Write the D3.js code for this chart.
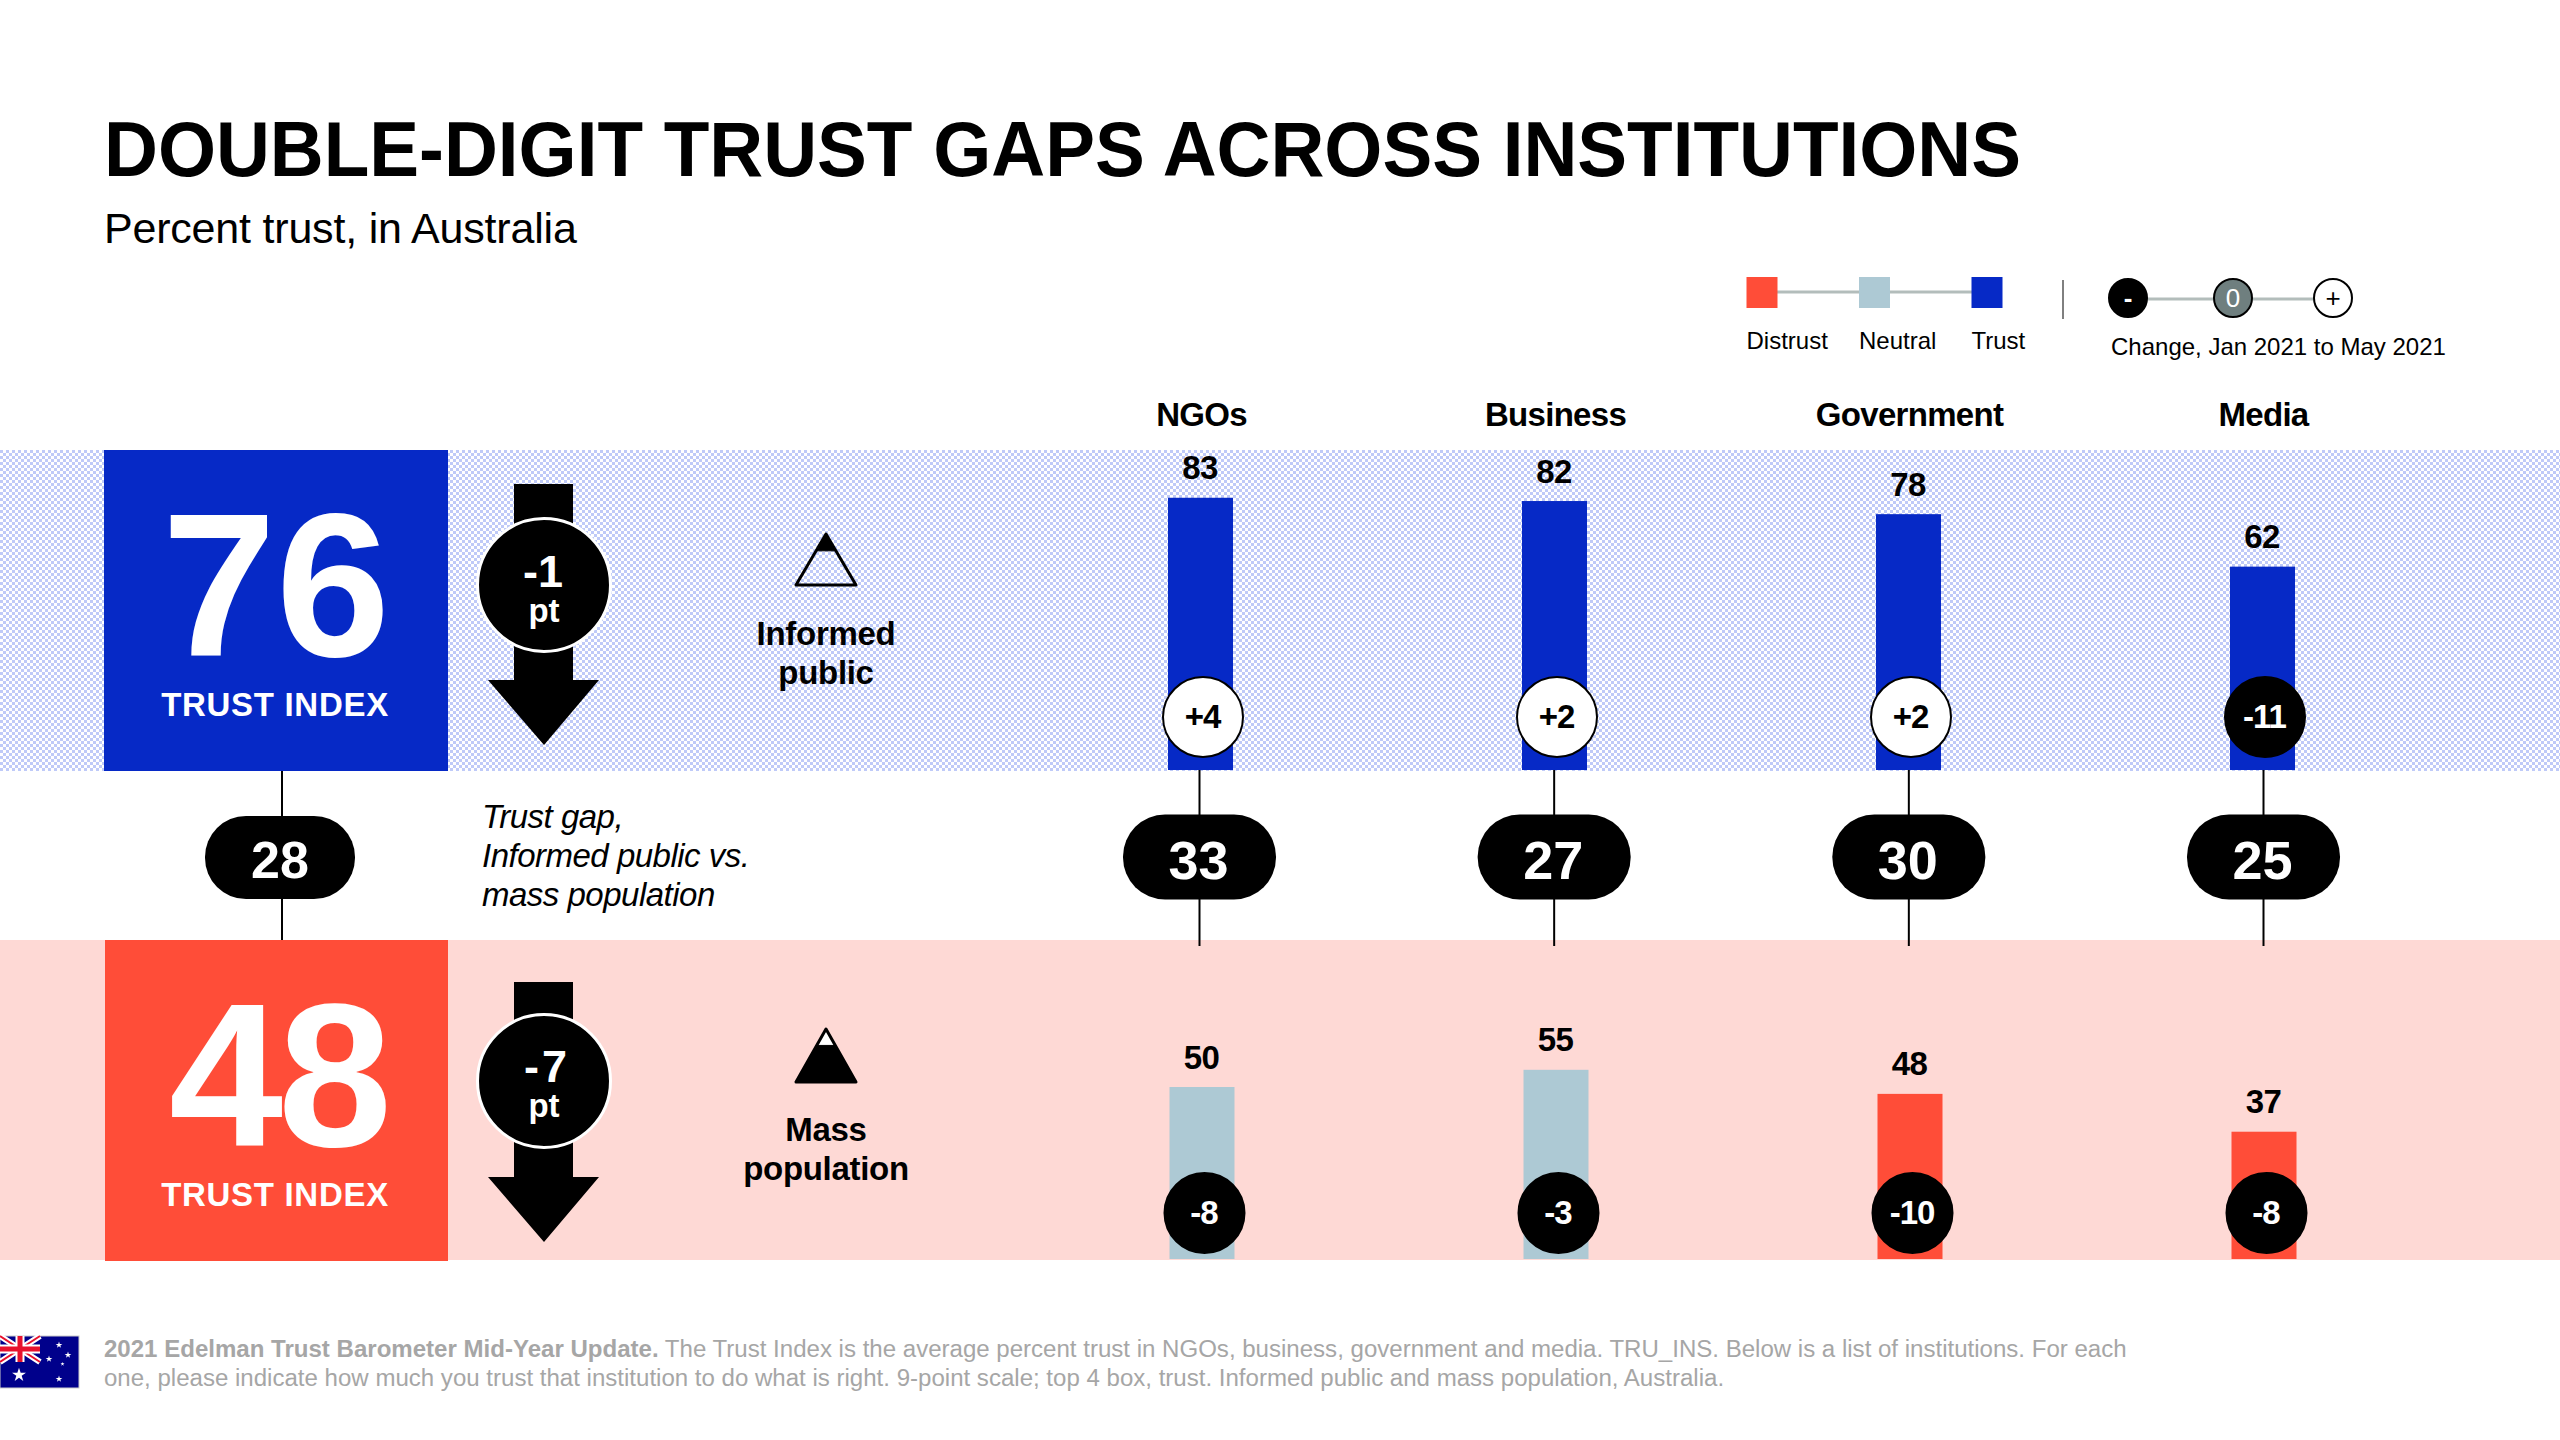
<!DOCTYPE html>
<html>
<head>
<meta charset="utf-8">
<style>
	body { margin: 0; background: #fff; }
	svg { display: block; }
	text { font-family: "Liberation Sans", Arial, sans-serif; }
</style>
<script src="https://d3js.org/d3.v7.min.js"></script>
</head>
<body>
<div id="chart"></div>
<script>
const categories = ['NGOs', 'Business', 'Government', 'Media'];
const informedValues = [83, 82, 78, 62];
const massValues = [50, 55, 48, 37];
const informedChange = ['+4', '+2', '+2', '-11'];
const massChange = ['-8', '-3', '-10', '-8'];
const gapValues = [33, 27, 30, 25];

const indexValues = [76, 48];
const indexChange = ['-1', '-7'];
const indexGap = 28;
const groupLabels = [['Informed', 'public'], ['Mass', 'population']];
const gapLabels = ['Trust gap,', 'Informed public vs.', 'mass population'];

const legendLabels = ['Distrust', 'Neutral', 'Trust'];
const changeLegend = ['-', '0', '+'];

const footBold = '2021 Edelman Trust Barometer Mid-Year Update.';
const footRest = ' The Trust Index is the average percent trust in NGOs, business, government and media. TRU_INS. Below is a list of institutions. For each';
const footLine2 = 'one, please indicate how much you trust that institution to do what is right. 9-point scale; top 4 box, trust. Informed public and mass population, Australia.';

const BLUE = '#0629c6', RED = '#ff4d38', PINK = '#fed9d5', NEUTRAL = '#adc9d4';

const svg = d3.select('#chart').append('svg').attr('width', 2560).attr('height', 1440);

// checker fill of the blue band
const pat = svg.append('defs').append('pattern').attr('id', 'checker')
	.attr('width', 6).attr('height', 6).attr('patternUnits', 'userSpaceOnUse');
pat.append('rect').attr('width', 6).attr('height', 6).attr('fill', '#fff');
pat.append('rect').attr('width', 3).attr('height', 3).attr('fill', '#bfcaf8');
pat.append('rect').attr('x', 3).attr('y', 3).attr('width', 3).attr('height', 3).attr('fill', '#bfcaf8');

const x = d3.scalePoint().domain(categories).range([1200.5, 2262.5]);
const gapX = d3.scalePoint().domain(categories).range([1199.5, 2263.5]);
const yInformed = d3.scaleLinear().domain([0, 100]).range([770, 442]);
const yMass = d3.scaleLinear().domain([0, 100]).range([1259, 915]);
const trustColor = d3.scaleThreshold().domain([50, 60]).range([RED, NEUTRAL, BLUE]);

function label(g, str, px, py, size, opts) {
	opts = opts || {};
	return g.append('text').attr('x', px).attr('y', py).text(str)
		.attr('font-size', size)
		.attr('font-weight', opts.weight || 'normal')
		.attr('font-style', opts.style || 'normal')
		.attr('text-anchor', opts.anchor || 'middle')
		.attr('letter-spacing', opts.spacing || 0)
		.attr('fill', opts.fill || '#000');
}

// title
label(svg, 'DOUBLE-DIGIT TRUST GAPS ACROSS INSTITUTIONS', 104, 176, 78, { weight: 'bold', anchor: 'start' })
	.attr('textLength', 1917).attr('lengthAdjust', 'spacingAndGlyphs');
label(svg, 'Percent trust, in Australia', 104, 243, 43, { anchor: 'start', spacing: -0.2 });

// legend
const legendX = d3.scalePoint().domain(legendLabels).range([1762, 1987]);
svg.append('line').attr('x1', legendX('Distrust')).attr('x2', legendX('Trust'))
	.attr('y1', 292).attr('y2', 292).attr('stroke', '#b3bdbb').attr('stroke-width', 3);
svg.selectAll('rect.legend').data(legendLabels).enter().append('rect')
	.attr('class', 'legend')
	.attr('x', (d) => legendX(d) - 15.5)
	.attr('y', 277).attr('width', 31).attr('height', 31)
	.attr('fill', (d, i) => [RED, NEUTRAL, BLUE][i]);
legendLabels.forEach((d) => {
	label(svg, d, legendX(d) - 15.5, 349, 24, { anchor: 'start' });
});
svg.append('line').attr('x1', 2063).attr('x2', 2063).attr('y1', 280).attr('y2', 319)
	.attr('stroke', '#000').attr('stroke-width', 1);

const changeX = d3.scaleOrdinal().domain(changeLegend).range([2128, 2233, 2333]);
svg.append('line').attr('x1', changeX('-')).attr('x2', changeX('+'))
	.attr('y1', 299).attr('y2', 299).attr('stroke', '#b3bdbb').attr('stroke-width', 3);
svg.selectAll('circle.change').data(changeLegend).enter().append('circle')
	.attr('class', 'change')
	.attr('cx', (d) => changeX(d)).attr('cy', 298).attr('r', 19)
	.attr('fill', (d, i) => ['#000', '#6f7f7f', '#fff'][i])
	.attr('stroke', '#000').attr('stroke-width', 2);
changeLegend.forEach((d, i) => {
	label(svg, d, changeX(d), 307, 26, { weight: i === 0 ? 'bold' : 'normal', fill: i === 2 ? '#000' : '#fff' });
});
label(svg, 'Change, Jan 2021 to May 2021', 2111, 355, 24, { anchor: 'start' });

// bands
svg.append('rect').attr('x', 0).attr('y', 450).attr('width', 2560).attr('height', 321).attr('fill', 'url(#checker)');
svg.append('rect').attr('x', 0).attr('y', 940).attr('width', 2560).attr('height', 320).attr('fill', PINK);

// connectors run under the pills
svg.append('line').attr('x1', 282).attr('x2', 282).attr('y1', 771).attr('y2', 940).attr('stroke', '#000').attr('stroke-width', 2);
svg.selectAll('line.gap').data(categories).enter().append('line')
	.attr('class', 'gap')
	.attr('x1', (d) => gapX(d)).attr('x2', (d) => gapX(d))
	.attr('y1', 770).attr('y2', 946)
	.attr('stroke', '#000').attr('stroke-width', 2);

// index boxes with arrows
const rows = [
	{ top: 450, left: 104, fill: BLUE, arrowTop: 484, head: 680, tip: 745, cy: 585, triTop: 534, triBase: 585, numX: 276, numSpacing: 0, chgX: 543, chgSpacing: 0, chgDy: 2 },
	{ top: 940, left: 105, fill: RED, arrowTop: 982, head: 1177, tip: 1242, cy: 1081, triTop: 1029, triBase: 1082, numX: 278, numSpacing: -5, chgX: 547, chgSpacing: 3, chgDy: 1 }
];
rows.forEach((r, i) => {
	const g = svg.append('g');
	g.append('rect').attr('x', r.left).attr('y', r.top).attr('width', 448 - r.left).attr('height', 321).attr('fill', r.fill);
	label(g, indexValues[i], r.numX, r.top + 206, 205, { weight: 'bold', fill: '#fff', spacing: r.numSpacing });
	label(g, 'TRUST INDEX', 275, r.top + 266, 33, { weight: 'bold', fill: '#fff', spacing: 0.7 });

	g.append('path').attr('fill', '#000').attr('d', d3.line()([
		[514, r.arrowTop], [573, r.arrowTop], [573, r.head], [599, r.head],
		[544, r.tip], [488, r.head], [514, r.head]
	]) + 'Z');
	g.append('circle').attr('cx', 544).attr('cy', r.cy).attr('r', 66.5)
		.attr('fill', '#000').attr('stroke', '#fff').attr('stroke-width', 3);
	label(g, indexChange[i], r.chgX, r.cy + r.chgDy, 45, { weight: 'bold', fill: '#fff', spacing: r.chgSpacing });
	label(g, 'pt', 544, r.cy + r.chgDy + 35, 33, { weight: 'bold', fill: '#fff' });

	// triangle, the filled part is the share of the population
	const tx = 826, half = 30, split = i === 0 ? 0.33 : 0.31;
	const sy = r.triTop + (r.triBase - r.triTop) * split;
	const sh = half * split;
	g.append('path').attr('d', d3.line()([[tx, r.triTop], [tx + half, r.triBase], [tx - half, r.triBase]]) + 'Z')
		.attr('fill', '#fff').attr('fill-opacity', i === 0 ? 0 : 1).attr('stroke', '#000').attr('stroke-width', 3).attr('stroke-linejoin', 'round');
	const filled = i === 0
		? [[tx, r.triTop], [tx + sh, sy], [tx - sh, sy]]
		: [[tx - sh, sy], [tx + sh, sy], [tx + half, r.triBase], [tx - half, r.triBase]];
	g.append('path').attr('d', d3.line()(filled) + 'Z').attr('fill', '#000').attr('stroke', '#000');

	const base = i === 0 ? 645 : 1141;
	groupLabels[i].forEach((t, k) => {
		label(g, t, 826, base + k * 39, 33, { weight: 'bold', spacing: -0.3 });
	});
});

// gap row
svg.append('rect').attr('x', 205).attr('y', 816).attr('width', 150).attr('height', 83).attr('rx', 41).attr('fill', '#000');
label(svg, indexGap, 280, 878, 52, { weight: 'bold', fill: '#fff' });
gapLabels.forEach((t, k) => {
	label(svg, t, 482, 828 + k * 39, 33, { style: 'italic', anchor: 'start', spacing: -0.5 });
});
svg.selectAll('rect.pill').data(gapValues).enter().append('rect')
	.attr('class', 'pill')
	.attr('x', (d, i) => gapX(categories[i]) - 76.5)
	.attr('y', 814.5).attr('width', 153).attr('height', 85).attr('rx', 42).attr('fill', '#000');
gapValues.forEach((d, i) => {
	label(svg, d, gapX(categories[i]) - 1, 879, 54, { weight: 'bold', fill: '#fff' });
});

// column heads
categories.forEach((d) => {
	label(svg, d, x(d) + 1, 426, 33, { weight: 'bold', spacing: -0.7 });
});

// bars, informed public then mass population
function drawBars(name, values, changes, y, dx, cy) {
	const g = svg.append('g').attr('class', name);
	g.selectAll('rect').data(values).enter().append('rect')
		.attr('x', (d, i) => x(categories[i]) + dx - 32.5)
		.attr('y', (d) => y(d))
		.attr('width', 65)
		.attr('height', (d) => y(0) - y(d))
		.attr('fill', (d) => trustColor(d));
	g.selectAll('text.value').data(values).enter().append('text')
		.attr('class', 'value')
		.attr('x', (d, i) => x(categories[i]) + dx - 0.5)
		.attr('y', (d) => y(d) - 18.5)
		.attr('text-anchor', 'middle').attr('font-size', 33).attr('font-weight', 'bold').attr('letter-spacing', -0.5)
		.text((d) => d);
	g.selectAll('circle').data(changes).enter().append('circle')
		.attr('cx', (d, i) => x(categories[i]) + dx + 2.5)
		.attr('cy', cy).attr('r', 40)
		.attr('fill', (d) => d[0] === '+' ? '#fff' : '#000')
		.attr('stroke', '#000').attr('stroke-width', 2);
	g.selectAll('text.delta').data(changes).enter().append('text')
		.attr('class', 'delta')
		.attr('x', (d, i) => x(categories[i]) + dx + 2)
		.attr('y', cy + 11)
		.attr('text-anchor', 'middle').attr('font-size', 33).attr('font-weight', 'bold').attr('letter-spacing', -1)
		.attr('fill', (d) => d[0] === '+' ? '#000' : '#fff')
		.text((d) => d);
}
drawBars('informed', informedValues, informedChange, yInformed, 0, 717);
drawBars('mass', massValues, massChange, yMass, 1.5, 1213);

// flag
const flag = svg.append('g');
flag.append('rect').attr('x', 0).attr('y', 1336).attr('width', 79).attr('height', 52).attr('fill', '#00008b').attr('stroke', '#ccc');
flag.append('path').attr('d', 'M0,1336L40,1362M40,1336L0,1362').attr('stroke', '#fff').attr('stroke-width', 6);
flag.append('path').attr('d', 'M0,1336L40,1362M40,1336L0,1362').attr('stroke', '#e8112d').attr('stroke-width', 2);
flag.append('path').attr('d', 'M20,1336V1362M0,1349H40').attr('stroke', '#fff').attr('stroke-width', 9);
flag.append('path').attr('d', 'M20,1336V1362M0,1349H40').attr('stroke', '#e8112d').attr('stroke-width', 5);
const star = d3.symbol().type(d3.symbolStar);
[[19, 1375, 60], [59, 1345, 14], [68, 1355, 14], [49, 1359, 14], [62.5, 1364, 5], [59, 1379, 14]].forEach((s) => {
	flag.append('path').attr('d', star.size(s[2])()).attr('transform', `translate(${s[0]},${s[1]})`).attr('fill', '#fff');
});

// footer
const foot = svg.append('text').attr('x', 104).attr('y', 1357).attr('font-size', 24.05).attr('fill', '#a6a6a6');
foot.append('tspan').attr('font-weight', 'bold').text(footBold);
foot.append('tspan').text(footRest);
svg.append('text').attr('x', 104).attr('y', 1386).attr('font-size', 24.05).attr('fill', '#a6a6a6').text(footLine2);
</script>
</body>
</html>
